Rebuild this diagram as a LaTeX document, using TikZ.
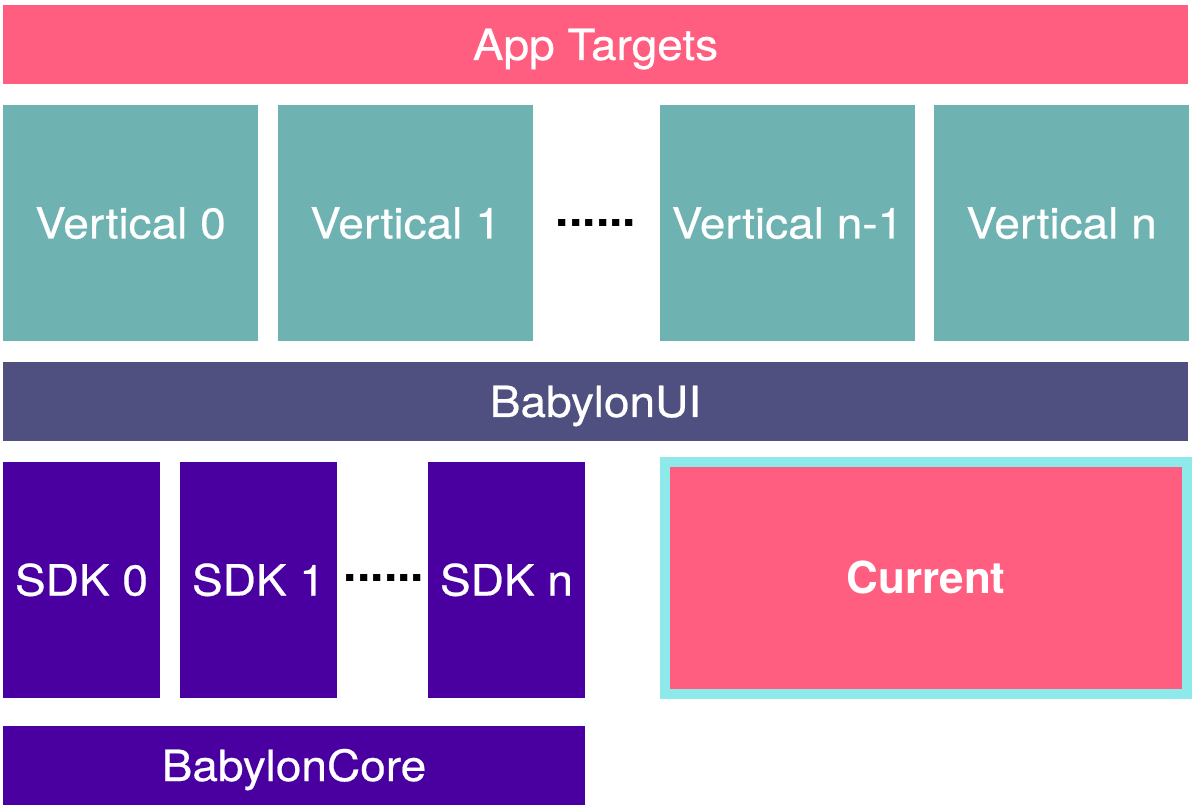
\documentclass[tikz,border=0pt]{standalone}
\usepackage{fontspec}
\setmainfont{TeX Gyre Heros}
\newfontfamily\labelfont{TeX Gyre Heros}[FakeStretch=1.07,FakeBold=0.5]
\usepackage{tikz}
\definecolor{apppink}{HTML}{FF5E80}
\definecolor{vertteal}{HTML}{6EB2B2}
\definecolor{uislate}{HTML}{4F5080}
\definecolor{sdkpurple}{HTML}{4A00A0}
\definecolor{curcyan}{HTML}{8EE9EB}
\tikzset{
  layer/.style={anchor=north west, inner sep=0pt, outer sep=0pt, text=white,
    text height=31pt, text depth=0pt, font=\labelfont\fontsize{43}{50}\selectfont},
  dots/.style={anchor=base, inner sep=0pt, font=\fontsize{48}{50}\selectfont\bfseries}
}

\begin{document}
\begin{tikzpicture}[x=1pt,y=-1pt]
      \useasboundingbox (0,0) rectangle (1192,810);

      % top and middle bars
      \node [layer,fill=apppink,minimum width=1185,minimum height=79] (apps) at (3,5) {App Targets};
      \node [layer,fill=uislate,minimum width=1185,minimum height=79] (ui) at (3,362) {BabylonUI};

      % verticals
      \node [layer,fill=vertteal,minimum width=255,minimum height=236] (v0) at (3,105) {Vertical 0};
      \node [layer,fill=vertteal,minimum width=255,minimum height=236] (v1) at (278,105) {Vertical 1};
      \node [dots] (vdots) at (596,227) {......};
      \node [layer,fill=vertteal,minimum width=255,minimum height=236] (vn1) at (660,105) {Vertical n-1};
      \node [layer,fill=vertteal,minimum width=255,minimum height=236] (vn) at (934,105) {Vertical n};

      % sdks
      \node [layer,fill=sdkpurple,minimum width=157,minimum height=236] (sdk0) at (3,462) {SDK 0};
      \node [layer,fill=sdkpurple,minimum width=157,minimum height=236] (sdk1) at (180,462) {SDK 1};
      \node [dots] (sdots) at (384,581) {......};
      \node [layer,fill=sdkpurple,minimum width=157,minimum height=236] (sdkn) at (428,462) {SDK n};

      \node [layer,fill=apppink,draw=curcyan,line width=10pt,minimum width=522,minimum height=232,
        font=\fontsize{44}{50}\selectfont\bfseries] (cur) at (665,462) {Current};

      \node [layer,fill=sdkpurple,minimum width=582,minimum height=79] (core) at (3,726) {BabylonCore};

    \end{tikzpicture}
\end{document}
